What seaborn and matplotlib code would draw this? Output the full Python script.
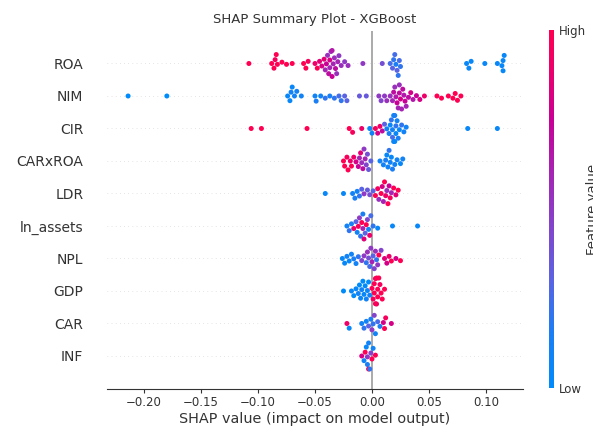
import numpy as np
import pandas as pd
import matplotlib
matplotlib.use("Agg")
import matplotlib.pyplot as plt
import seaborn as sns
from matplotlib.colors import LinearSegmentedColormap, Normalize
from matplotlib.cm import ScalarMappable

features = ["ROA", "NIM", "CIR", "CARxROA", "LDR", "ln_assets", "NPL", "GDP", "CAR", "INF"]

roa_shap = [-0.108, -0.088, -0.086, -0.085, -0.084, -0.083, -0.079, -0.075, -0.070,
            -0.060, -0.058, -0.056, -0.050, -0.048, -0.046,
            -0.044, -0.042, -0.041, -0.040, -0.039, -0.038, -0.037, -0.037, -0.036, -0.035,
            -0.035, -0.034, -0.033, -0.032, -0.031, -0.030, -0.029, -0.027, -0.024, -0.021,
            -0.008, 0.009, 0.016, 0.018, 0.019, 0.020, 0.021, 0.022, 0.023, 0.024, 0.025,
            0.083, 0.085, 0.087, 0.099, 0.110, 0.114, 0.115, 0.115, 0.116]
roa_val = [1.0, 1.0, 1.0, 0.95, 1.0, 1.0, 1.0, 1.0, 1.0,
           1.0, 1.0, 0.95, 0.9, 1.0, 0.85,
           0.8, 0.85, 0.6, 0.75, 0.55, 0.7, 0.8, 0.6, 0.55, 0.75,
           0.65, 0.6, 0.55, 0.7, 0.55, 0.6, 0.5, 0.55, 0.5, 0.55,
           0.5, 0.4, 0.25, 0.3, 0.2, 0.25, 0.15, 0.3, 0.2, 0.25, 0.2,
           0.05, 0.05, 0.05, 0.05, 0.05, 0.05, 0.05, 0.05, 0.05]

nim_shap = [-0.214, -0.180, -0.074, -0.072, -0.071, -0.070, -0.068, -0.066, -0.062,
            -0.050, -0.049, -0.045, -0.041, -0.037, -0.033, -0.029, -0.027, -0.024, -0.022,
            -0.011, -0.005, 0.006, 0.008, 0.011, 0.013,
            0.016, 0.018, 0.019, 0.020, 0.021, 0.022, 0.023, 0.024, 0.024, 0.025, 0.026,
            0.027, 0.028, 0.029, 0.030, 0.032, 0.034, 0.036, 0.039, 0.042, 0.046,
            0.057, 0.061, 0.067, 0.071, 0.073, 0.075, 0.078]
nim_val = [0.0, 0.0, 0.05, 0.05, 0.1, 0.05, 0.1, 0.1, 0.1,
           0.1, 0.15, 0.1, 0.2, 0.15, 0.2, 0.25, 0.2, 0.3, 0.3,
           0.35, 0.35, 0.5, 0.45, 0.5, 0.55,
           0.55, 0.6, 0.7, 0.55, 0.65, 0.75, 0.6, 0.7, 0.55, 0.8, 0.6,
           0.7, 0.65, 0.75, 0.6, 0.7, 0.8, 0.65, 0.75, 0.8, 0.9,
           1.0, 1.0, 1.0, 1.0, 1.0, 1.0, 1.0]

cir_shap = [-0.106, -0.097, -0.057, -0.020, -0.017, -0.009, -0.002,
            0.000, 0.003, 0.005, 0.007, 0.009, 0.011,
            0.013, 0.015, 0.016, 0.017, 0.018, 0.018, 0.019, 0.019, 0.020, 0.020,
            0.021, 0.021, 0.022, 0.023, 0.024, 0.026, 0.028, 0.030, 0.084, 0.110]
cir_val = [1.0, 1.0, 1.0, 1.0, 0.95, 0.9, 0.05,
           0.1, 0.95, 0.8, 0.9, 0.7, 0.3,
           0.1, 0.15, 0.05, 0.2, 0.1, 0.25, 0.05, 0.1, 0.15, 0.05,
           0.2, 0.05, 0.1, 0.15, 0.05, 0.2, 0.1, 0.1, 0.05, 0.05]

carxroa_shap = [-0.025, -0.024, -0.022, -0.021, -0.019, -0.018, -0.016,
                -0.014, -0.012, -0.011, -0.010, -0.009, -0.008, -0.007, -0.006, -0.005,
                -0.004, -0.003, -0.001,
                0.007, 0.010, 0.012, 0.013, 0.014, 0.015, 0.016, 0.017, 0.018, 0.020,
                0.022, 0.025, 0.027]
carxroa_val = [1.0, 1.0, 0.95, 1.0, 0.9, 1.0, 0.9,
               0.8, 0.75, 0.6, 0.85, 0.55, 0.7, 0.5, 0.6, 0.45,
               0.4, 0.35, 0.3,
               0.1, 0.1, 0.15, 0.05, 0.1, 0.2, 0.1, 0.05, 0.15, 0.1,
               0.1, 0.05, 0.1]

ldr_shap = [-0.041, -0.025, -0.017, -0.015, -0.013, -0.011, -0.009, -0.007, -0.004, -0.002,
            0.001, 0.003, 0.005, 0.006, 0.008, 0.009, 0.010, 0.011, 0.012, 0.013,
            0.014, 0.015, 0.016, 0.017, 0.019, 0.021, 0.023]
ldr_val = [0.05, 0.05, 0.1, 0.15, 0.1, 0.2, 0.3, 0.5, 0.35, 0.4,
           0.3, 1.0, 0.95, 0.55, 1.0, 0.8, 0.6, 1.0, 0.9, 0.55,
           1.0, 0.75, 0.95, 0.6, 1.0, 0.85, 1.0]

lnassets_shap = [-0.022, -0.020, -0.018, -0.016, -0.014, -0.013, -0.012, -0.011, -0.010,
                 -0.009, -0.008, -0.008, -0.007, -0.006, -0.005, -0.004, -0.003, -0.002,
                 -0.001, 0.001, 0.005, 0.018, 0.040]
lnassets_val = [0.1, 0.2, 0.15, 0.9, 0.3, 0.1, 0.95, 0.5, 0.2,
                1.0, 0.6, 0.15, 0.85, 0.3, 1.0, 0.45, 0.1, 0.9,
                0.25, 0.2, 0.05, 0.05, 0.05]

npl_shap = [-0.026, -0.024, -0.022, -0.020, -0.018, -0.016, -0.014, -0.012,
            -0.009, -0.007, -0.005, -0.004, -0.003, -0.002, -0.001, 0.000, 0.001, 0.002,
            0.003, 0.004, 0.005, 0.006, 0.008,
            0.011, 0.013, 0.015, 0.017, 0.021, 0.025]
npl_val = [0.05, 0.05, 0.1, 0.05, 0.1, 0.15, 0.1, 0.2,
           0.45, 0.5, 0.2, 0.55, 0.4, 0.25, 0.5, 0.6, 0.3, 0.45,
           0.55, 0.2, 0.5, 1.0, 0.45,
           0.85, 0.8, 0.9, 1.0, 0.8, 1.0]

gdp_shap = [-0.025, -0.018, -0.016, -0.014, -0.012, -0.011, -0.010, -0.009, -0.008,
            -0.007, -0.006, -0.005, -0.004, -0.003, -0.002,
            0.000, 0.001, 0.002, 0.002, 0.003, 0.003, 0.004, 0.004, 0.005, 0.005,
            0.006, 0.007, 0.008, 0.009, 0.011]
gdp_val = [0.0, 0.05, 0.0, 0.05, 0.1, 0.0, 0.05, 0.1, 0.0,
           0.05, 0.0, 0.1, 0.05, 0.0, 0.1,
           1.0, 0.95, 1.0, 1.0, 0.95, 1.0, 1.0, 0.95, 1.0, 1.0,
           1.0, 0.95, 1.0, 1.0, 1.0]

car_shap = [-0.022, -0.020, -0.009, -0.007, -0.005, -0.003, -0.001, 0.000, 0.001, 0.002,
            0.003, 0.005, 0.007, 0.010, 0.011, 0.012, 0.017]
car_val = [0.9, 0.05, 0.1, 0.2, 0.1, 0.3, 0.15, 0.5, 0.2, 0.45,
           0.1, 0.25, 0.15, 0.8, 1.0, 0.95, 0.8]

inf_shap = [-0.009, -0.007, -0.006, -0.005, -0.004, -0.004, -0.003, -0.003, -0.002,
            -0.001, 0.000, 0.001, 0.003]
inf_val = [0.8, 0.1, 1.0, 0.05, 0.5, 0.15, 1.0, 0.1, 0.2,
           0.45, 1.0, 0.1, 1.0]

shap_lists = [roa_shap, nim_shap, cir_shap, carxroa_shap, ldr_shap,
              lnassets_shap, npl_shap, gdp_shap, car_shap, inf_shap]
val_lists = [roa_val, nim_val, cir_val, carxroa_val, ldr_val,
             lnassets_val, npl_val, gdp_val, car_val, inf_val]

rows = []
for f, s_list, v_list in zip(features, shap_lists, val_lists):
    for s, v in zip(s_list, v_list):
        rows.append({"feature": f, "shap": s, "value": v})
df = pd.DataFrame(rows)

cmap = LinearSegmentedColormap.from_list(
    "shap_red_blue",
    [(0.0, "#008BFB"), (0.15, "#1A7EF5"), (0.3, "#5A63E3"), (0.45, "#8344CC"),
     (0.6, "#A624B4"), (0.75, "#C80096"), (0.9, "#EE0068"), (1.0, "#FF0052")])

plt.rcParams["font.family"] = ["DejaVu Sans"]
fig = plt.figure(figsize=(5.93, 4.29), dpi=100)
ax = fig.add_axes([107 / 593, 40.5 / 429, 416 / 593, 357.5 / 429])

for i in range(len(features)):
    ax.axhline(i, color="#cccccc", lw=0.5, dashes=(1, 5), zorder=-1)
ax.axvline(0, color="#aaaaaa", lw=1.4, zorder=-1)

sns.swarmplot(data=df, x="shap", y="feature", hue="value", order=features,
              palette=cmap, hue_norm=(0, 1), size=3.6, linewidth=0,
              legend=False, ax=ax, zorder=3)

ax.set_xlim(-0.2325, 0.1325)
ax.set_ylim(10, -1)
ax.set_xticks([-0.20, -0.15, -0.10, -0.05, 0.00, 0.05, 0.10])
ax.set_xticklabels(["\u22120.20", "\u22120.15", "\u22120.10", "\u22120.05", "0.00", "0.05", "0.10"])
for sp in ["top", "right", "left"]:
    ax.spines[sp].set_visible(False)
ax.spines["bottom"].set_color("#333333")
ax.tick_params(axis="y", length=0, pad=17, labelsize=10, labelcolor="#333333")
ax.tick_params(axis="x", labelsize=8.5, labelcolor="#333333", color="#333333",
               length=2.7, pad=2.4)
ax.set_ylabel("")
ax.set_xlabel("SHAP value (impact on model output)", fontsize=10.4, color="#333333",
              labelpad=2.5)
ax.set_title("SHAP Summary Plot - XGBoost", fontsize=9.5, color="#333333")

cax = fig.add_axes([549 / 593, 41 / 429, 5 / 593, 358 / 429])
sm = ScalarMappable(norm=Normalize(0, 1), cmap=cmap)
cb = fig.colorbar(sm, cax=cax, ticks=[0, 1])
cb.set_ticklabels(["Low", "High"])
cb.ax.tick_params(labelsize=8.5, length=0, labelcolor="#333333")
cb.outline.set_visible(False)
cb.set_label("Feature value", size=9.5, labelpad=0, color="#333333")

fig.savefig("out.png", dpi=100)
